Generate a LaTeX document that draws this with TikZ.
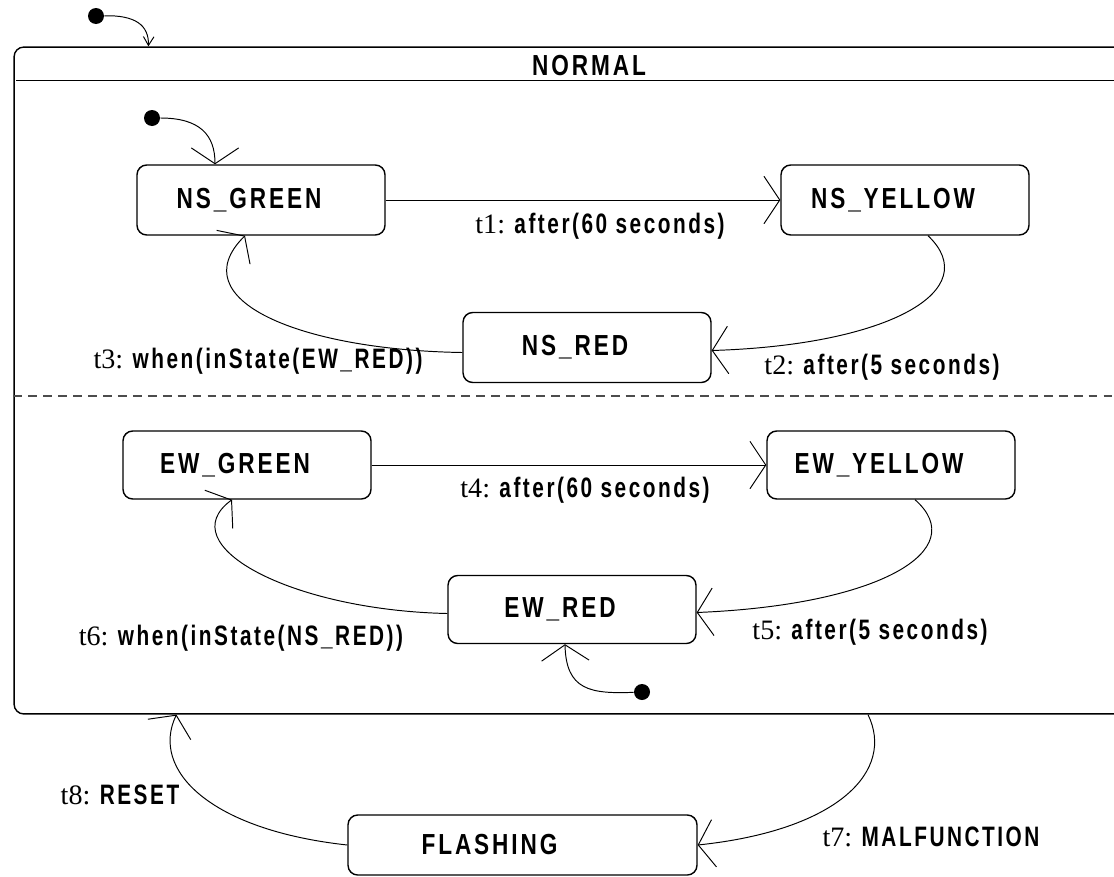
\documentclass[tikz,border=0pt]{standalone}
\usepackage{fontspec}
\newfontfamily\statefont{Liberation Sans}[FakeStretch=0.78,LetterSpace=10]
\newfontfamily\transfont{Liberation Sans}[FakeStretch=0.74,LetterSpace=9]
\newfontfamily\serfont{Liberation Serif}
\usetikzlibrary{arrows.meta, calc, positioning}

\tikzset{
  state/.style={draw, line width=0.8pt, rounded corners=5.5pt, minimum width=4.96cm,
    minimum height=1.4cm, inner sep=0pt, font=\fontsize{16.5}{19}\statefont\bfseries,
    execute at end node={\hspace{0.48cm}}},
  trans/.style={font=\fontsize{16}{19}\transfont\bfseries, inner sep=0pt},
  initdot/.style={circle, fill, inner sep=0pt, minimum size=0.32cm},
  edge/.style={line width=0.55pt, -{Straight Barb[length=9pt,width=27pt]}},
}
\newcommand{\trn}[1]{{\serfont\mdseries #1: }}

\begin{document}
\begin{tikzpicture}[x=0.02cm, y=-0.02cm]
    \useasboundingbox (0,0) rectangle (1114,876);
    \clip (0,0) rectangle (1114,876);

    % superstate
    \node [draw, line width=0.8pt, rounded corners=5.5pt, minimum width=23cm, minimum height=13.34cm] (normal) at (589,380.5) {};
    \node [font=\fontsize{16.5}{19}\statefont\bfseries, inner sep=0pt] (title) at (589,66) {NORMAL};
    \draw [line width=0.8pt] ($(normal.north west)+(3,34)$) -- ($(normal.north east)+(-3,34)$);
    \draw [line width=0.6pt, black!70, dash pattern=on 5pt off 3.5pt] ($(normal.west)+(0,15.5)$) -- ($(normal.east)+(0,15.5)$);

    % north-south states
    \node [state] (NSG) at (261,200) {NS\_GREEN};
    \node [state] (NSY) at (905,200) {NS\_YELLOW};
    \node [state] (NSR) at (587,347.5) {NS\_RED};

    % east-west states
    \node [state, minimum height=1.36cm] (EWG) at (247,465) {EW\_GREEN};
    \node [state, minimum height=1.36cm] (EWY) at (891,465) {EW\_YELLOW};
    \node [state, minimum height=1.36cm] (EWR) at (572,609.5) {EW\_RED};

    \node [state, minimum width=6.98cm, minimum height=1.2cm, execute at end node={\hspace{0.84cm}}] (FL) at (522.5,845) {FLASHING};

    % initial states
    \node [initdot] (i0) at (96,16) {};
    \node [initdot] (i1) at (152,118) {};
    \node [initdot] (i2) at (642,692) {};

    \draw [line width=0.55pt, -{Straight Barb[length=5pt,width=6pt]}] (i0) .. controls (135,15) and (149,25) .. ($(normal.north west)+(135,0)$);
    \draw [edge] (i1) .. controls (200,118) and (215,135) .. ($(NSG.north)+(-46,0)$);
    \draw [edge] (i2) .. controls (590,694) and (566,690) .. ($(EWR.south)+(-7,0)$);

    % transitions
    \draw [edge] (NSG.east) -- (NSY.west);
    \draw [edge] ($(NSY.south)+(23,0)$) .. controls (985,290) and (890,345) .. ($(NSR.east)+(0,3)$);
    \draw [edge] ($(NSR.west)+(0,5)$) .. controls (300,350) and (180,300) .. ($(NSG.south)+(-16,0)$);
    \draw [edge] (EWG.east) -- (EWY.west);
    \draw [edge] ($(EWY.south)+(24,0)$) .. controls (972,550) and (880,605) .. ($(EWR.east)+(0,3)$);
    \draw [edge] ($(EWR.west)+(0,4)$) .. controls (290,610) and (170,545) .. ($(EWG.south)+(-15,0)$);
    \draw [edge] ($(normal.south)+(279,0)$) .. controls (895,770) and (840,830) .. (FL.east);
    \draw [edge] (FL.west) .. controls (210,830) and (150,770) .. ($(normal.south west)+(163,0)$);

    \node [trans] (lt1) at (600,226) {\trn{t1}after(60 seconds)};
    \node [trans] (lt2) at (882,367) {\trn{t2}after(5 seconds)};
    \node [trans] (lt3) at (258,361) {\trn{t3}when(inState(EW\_RED))};
    \node [trans] (lt4) at (585,490) {\trn{t4}after(60 seconds)};
    \node [trans] (lt5) at (870,632) {\trn{t5}after(5 seconds)};
    \node [trans] (lt6) at (241,638) {\trn{t6}when(inState(NS\_RED))};
    \node [trans] (lt7) at (931,837) {\trn{t7}MALFUNCTION};
    \node [trans] (lt8) at (120,795) {\trn{t8}RESET};
\end{tikzpicture}
\end{document}
